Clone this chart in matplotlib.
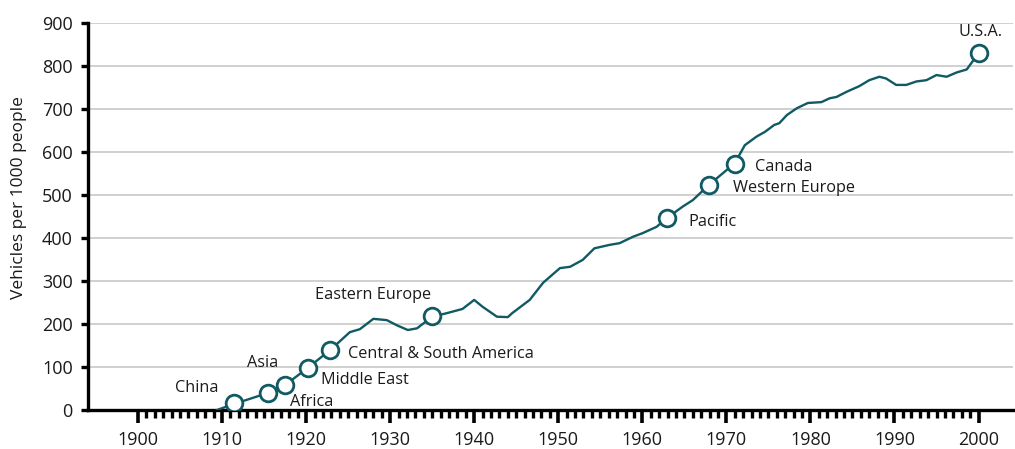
import matplotlib.pyplot as plt

# U.S. vehicle ownership curve
years = [1909.4, 1911.4, 1913.0, 1915.5, 1917.5, 1920.2, 1922.9, 1925.2, 1926.4,
         1928.0, 1929.6, 1930.8, 1932.1, 1933.2, 1935.0, 1936.7, 1938.6, 1940.0,
         1941.0, 1942.7, 1944.0, 1944.5, 1946.6, 1948.2, 1950.2, 1951.4, 1952.9,
         1954.3, 1956.1, 1957.3, 1958.9, 1960.0, 1961.7, 1962.9, 1964.8, 1966.0,
         1967.9, 1969.6, 1971.0, 1972.2, 1973.6, 1974.6, 1975.7, 1976.3, 1977.2,
         1978.4, 1979.7, 1981.3, 1982.3, 1983.1, 1984.3, 1985.8, 1987.0, 1988.2,
         1989.0, 1990.2, 1991.4, 1992.6, 1993.8, 1995.0, 1996.2, 1997.4, 1998.6,
         2000.0]
vehicles = [0, 14, 24, 40, 58, 98, 140, 181, 188,
            212, 209, 197, 186, 190, 217, 225, 235, 256,
            240, 217, 216, 225, 256, 296, 330, 333, 349,
            376, 384, 388, 403, 411, 426, 446, 473, 488,
            523, 551, 574, 616, 636, 647, 663, 667, 686,
            702, 714, 716, 725, 728, 740, 753, 767, 775,
            771, 756, 756, 764, 767, 779, 775, 785, 792,
            830]

# when each region reaches today's level, in U.S. terms
regions = ["China", "Asia", "Africa", "Middle East", "Central & South America",
           "Eastern Europe", "Pacific", "Western Europe", "Canada", "U.S.A."]
region_years = [1911.4, 1915.5, 1917.5, 1920.2, 1922.9, 1935.0, 1962.9, 1967.9, 1971.0, 2000.1]
region_values = [17, 40, 58, 98, 140, 218, 447, 523, 573, 830]

# label offsets in pixels (dx, dy) and alignment
offsets = [(-15, 15, "right"), (-6, 30, "center"), (5, -17, "left"), (13, -12, "left"),
           (18, -4, "left"), (-1, 21, "right"), (22, -4, "left"), (24, -3, "left"),
           (20, -3, "left"), (1, 21, "center")]

teal = "#0f5a63"
plt.rcParams["font.family"] = ["Open Sans", "DejaVu Sans"]

fig = plt.figure(figsize=(10.15, 4.49), dpi=100)
ax = fig.add_axes([88 / 1015, 39 / 449, (1013 - 88) / 1015, (410 - 23) / 449])

ax.plot(years, vehicles, color=teal, lw=1.7, zorder=3)
ax.plot(region_years, region_values, ls="none", marker="o", ms=12, mfc="white",
        mec=teal, mew=2, zorder=4)

for name, x, y, (dx, dy, ha) in zip(regions, region_years, region_values, offsets):
    ax.annotate(name, (x, y), xytext=(dx * 0.72, dy * 0.72), textcoords="offset points",
                ha=ha, va="center", fontsize=11.7, color="#1a1a1a")

ax.set_xlim(1894.05, 2004.1)
ax.set_ylim(0, 900)
ax.set_xticks(range(1900, 2001, 10))
ax.set_xticks(range(1900, 2001, 1), minor=True)
ax.set_yticks(range(0, 901, 100))
ax.yaxis.grid(True, color="#c8c8c8", lw=1.2)
ax.set_axisbelow(True)

for s in ["top", "right"]:
    ax.spines[s].set_visible(False)
for s in ["left", "bottom"]:
    ax.spines[s].set_linewidth(2.4)
ax.spines["left"].set_bounds(0, 900)

ax.tick_params(axis="x", which="major", length=9, width=2.6, labelsize=13, pad=6,
               labelcolor="#1a1a1a")
ax.tick_params(axis="x", which="minor", length=6, width=2.4)
ax.tick_params(axis="y", which="major", length=5, width=2.4, labelsize=13, pad=6,
               labelcolor="#1a1a1a")
ax.set_ylabel("Vehicles per 1000 people", fontsize=12.5, color="#1a1a1a")
ax.yaxis.set_label_coords(-0.066, 0.55)

plt.savefig("out.png", dpi=100)
